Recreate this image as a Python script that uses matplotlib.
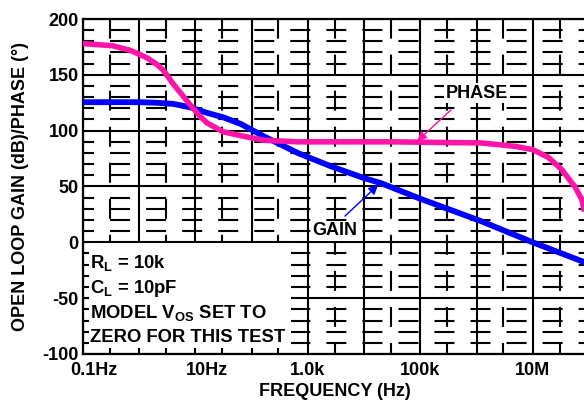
import numpy as np
import matplotlib
matplotlib.use('Agg')
import matplotlib.pyplot as plt
from matplotlib.ticker import FixedLocator, NullFormatter, MultipleLocator
from matplotlib.patches import Rectangle
from matplotlib.transforms import offset_copy

plt.rcParams['font.family'] = ['Liberation Sans', 'DejaVu Sans']
plt.rcParams['font.weight'] = 'bold'
plt.rcParams['axes.labelweight'] = 'bold'
plt.rcParams['axes.unicode_minus'] = False
plt.rcParams['mathtext.fontset'] = 'custom'
plt.rcParams['mathtext.rm'] = 'Liberation Sans:bold'
plt.rcParams['mathtext.bf'] = 'Liberation Sans:bold'

# values
gain_freq = [0.1, 0.3, 1, 2, 4, 8, 16, 31, 64, 163, 330, 660, 2600, 10e3, 20e3,
             100e3, 1.2e6, 10e6, 81e6]
gain_db = [125.5, 125.5, 125.5, 125, 124, 121, 116, 112, 106, 95, 87.5, 80, 68,
           57.5, 53, 39, 19, 0, -17.6]

phase_freq = [0.1, 0.34, 0.69, 1.04, 1.4, 2.1, 2.7, 4.0, 5.4, 8.1, 12, 16, 31, 64,
              163, 660, 30e3, 1.2e6, 4.8e6, 10e6, 19e6, 33e6, 50e6, 56e6, 75e6, 81e6]
phase_deg = [178, 176, 172, 168, 165, 159, 154, 142, 134, 123, 113, 107, 99, 95.5,
             91.4, 90, 90, 89, 86, 83, 76, 65, 53, 50, 38, 30]

decades = [0.1, 1, 10, 100, 1e3, 1e4, 1e5, 1e6, 1e7, 1e8]
minor_x = [0.3, 3, 30, 300, 3e3, 3e4, 3e5, 3e6, 3e7]
xlabel_pos = [0.1, 10, 1e3, 1e5, 1e7]
xlabel_txt = ['0.1Hz', '10Hz', '1.0k', '100k', '10M']
yticks = [-100, -50, 0, 50, 100, 150, 200]

note_lines = [r'R$_{\rm L}$ = 10k', r'C$_{\rm L}$ = 10pF',
              r'MODEL V$_{\rm OS}$ SET TO', 'ZERO FOR THIS TEST']

fig = plt.figure(figsize=(5.84, 4.04), dpi=100)
ax = fig.add_axes([83 / 584, 50 / 404, 506 / 584, 335 / 404])
ax.set_xscale('log')
ax.set_xlim(0.1, 1e8)
ax.set_ylim(-100, 200)

ax.xaxis.set_major_locator(FixedLocator(decades))
ax.xaxis.set_major_formatter(NullFormatter())
ax.xaxis.set_minor_locator(FixedLocator(minor_x))
ax.xaxis.set_minor_formatter(NullFormatter())
ax.yaxis.set_major_locator(FixedLocator(yticks))
ax.yaxis.set_minor_locator(MultipleLocator(10))

ax.set_axisbelow(True)
ax.grid(which='major', color='black', lw=1.5, ls='-')
ax.grid(which='minor', color='black', lw=1.5, ls=(4.3, (9.6, 7.7)))
ax.tick_params(which='both', direction='in', length=4.5, width=1.2,
               labelsize=13, color='black')
ax.tick_params(axis='y', pad=3)
for s in ax.spines.values():
    s.set_linewidth(1.6)

# x labels: the number part sits on the tick, "Hz" hangs to the right
xform = ax.get_xaxis_transform()
for f, t in zip(xlabel_pos, xlabel_txt):
    if t.endswith('Hz'):
        num_w = {'0.1Hz': 12.5, '10Hz': 10}[t]
        tr = offset_copy(xform, fig=fig, x=-num_w, y=0, units='dots')
        ax.text(f, -0.048, t, transform=tr, fontsize=13, ha='left', va='center')
    else:
        ax.text(f, -0.048, t, transform=xform, fontsize=13, ha='center', va='center')

# white panel for the test conditions
x0 = 0.1 * 10 ** (6 / 56.2)
ax.add_patch(Rectangle((x0, -94.5), 500 - x0, 93.5,
                       facecolor='white', edgecolor='none', zorder=1))

ax.plot(gain_freq, gain_db, color='#0000FF', lw=4.2, zorder=3)
ax.plot(phase_freq, phase_deg, color='#FF14A8', lw=4.0, zorder=4)

ax.text(1.02e6, 133.7, 'PHASE', fontsize=13, ha='center', va='center', zorder=5,
        bbox=dict(facecolor='white', edgecolor='none', pad=1))
ax.annotate('', xy=(80.7e3, 89), xytext=(384e3, 120.3), zorder=5,
            arrowprops=dict(arrowstyle='-|>', color='#FF14A8', lw=1.0, mutation_scale=14))
ax.text(3.05e3, 10.2, 'GAIN', fontsize=13, ha='center', va='center', zorder=5,
        bbox=dict(facecolor='white', edgecolor='none', pad=1))
ax.annotate('', xy=(19.3e3, 53.1), xytext=(4.2e3, 21.8), zorder=5,
            arrowprops=dict(arrowstyle='-|>', color='#0000FF', lw=1.0, mutation_scale=14))

baselines = [268, 293, 318, 342]
for line, py in zip(note_lines, baselines):
    ax.text((90 - 83) / 506, (354 - py) / 335, line, transform=ax.transAxes,
            fontsize=13.3, ha='left', va='baseline', zorder=6)

ax.set_ylabel('OPEN LOOP GAIN (dB)/PHASE (°)', fontsize=13)
ax.yaxis.set_label_coords(-(83 - 20) / 506, 0.5)
ax.set_xlabel('FREQUENCY (Hz)', fontsize=13)
ax.xaxis.set_label_coords((335 - 83) / 506, -(392 - 354) / 335)
ax.xaxis.label.set_va('center')
ax.yaxis.label.set_va('center')

fig.savefig('out.png', dpi=100)
